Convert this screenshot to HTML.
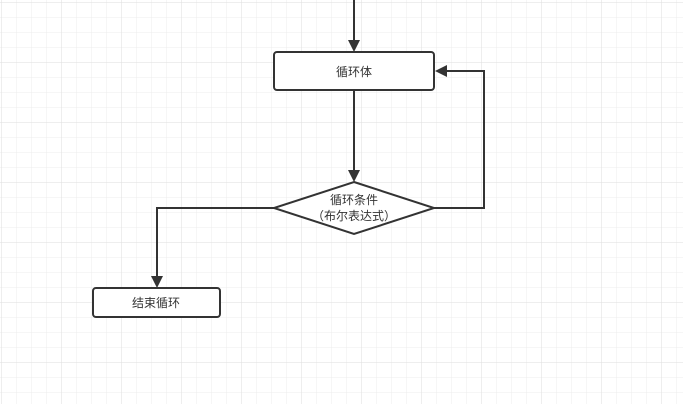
<!DOCTYPE html>
<html><head><meta charset="utf-8"><style>
html,body{margin:0;padding:0;background:#fff;}
svg{display:block;}
text{font-family:"Liberation Sans","Noto Sans CJK SC",sans-serif;font-size:12px;fill:#333;}
</style></head><body>
<svg width="683" height="404" xmlns="http://www.w3.org/2000/svg">
<defs>
<pattern id="g" x="1" y="2" width="15" height="15" patternUnits="userSpaceOnUse">
<path d="M0 0H15M0 0V15" stroke="#ececec" stroke-width="1" fill="none"/>
</pattern>
<pattern id="G" x="1" y="2" width="60" height="60" patternUnits="userSpaceOnUse">
<path d="M0 0H60M0 0V60" stroke="#dedede" stroke-width="1" fill="none"/>
</pattern>
</defs>
<rect width="683" height="404" fill="url(#g)"/>
<rect width="683" height="404" fill="url(#G)"/>
<g stroke="#333" stroke-width="2" fill="none">
<path d="M354 0V42"/>
<path d="M354 90V172"/>
<path d="M274 208H157V278"/>
<path d="M434 208H484V71H445"/>
</g>
<g fill="#333">
<polygon points="348,40 360,40 354,52"/>
<polygon points="348,170 360,170 354,182"/>
<polygon points="151,276 163,276 157,288"/>
<polygon points="435,71 447,65 447,77"/>
</g>
<rect x="274" y="52" width="160" height="38" rx="3" fill="#fff" stroke="#333" stroke-width="2"/>
<text x="354" y="76" text-anchor="middle">循环体</text>
<polygon points="354,182 434,208 354,234 274,208" fill="#fff" stroke="#333" stroke-width="2"/>
<text x="354" y="204" text-anchor="middle">循环条件</text>
<text x="354" y="220" text-anchor="middle">（布尔表达式）</text>
<rect x="93" y="288" width="127" height="29" rx="3" fill="#fff" stroke="#333" stroke-width="2"/>
<text x="156" y="307" text-anchor="middle">结束循环</text>
</svg>
</body></html>
